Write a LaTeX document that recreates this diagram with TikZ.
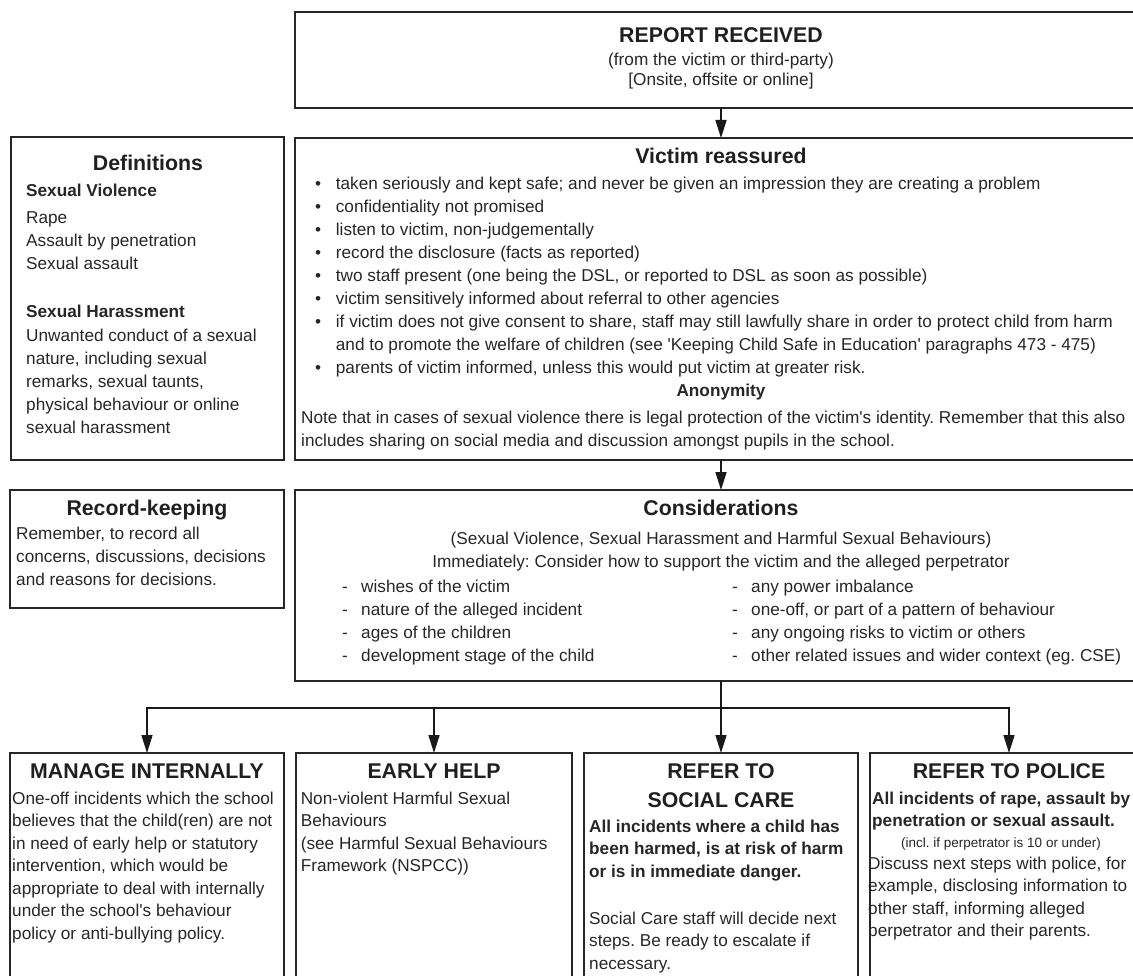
\documentclass[tikz,border=0pt]{standalone}
\usepackage{fontspec}
\setmainfont{Liberation Sans}
\usetikzlibrary{arrows.meta}
\newcommand{\sq}{\textquotesingle}
\frenchspacing
\begin{document}
\begin{tikzpicture}[x=1pt,y=-1pt,
  box/.style={draw=black!85, line width=1.6pt, rectangle, inner sep=0pt, outer sep=0pt, anchor=north west},
  ttl/.style={font=\bfseries\fontsize{21.3}{25}\selectfont, text=black!88, inner sep=0pt, anchor=base},
  line/.style={font=\fontsize{17.2}{23}\selectfont, text=black!85, inner sep=0pt, anchor=base},
  bline/.style={line, font=\bfseries\fontsize{17.2}{23}\selectfont},
  small/.style={line, font=\fontsize{13.5}{16}\selectfont},
  para/.style={font=\fontsize{17.2}{23}\selectfont, text=black!85, inner sep=0pt, align=left, anchor=north west},
  bpara/.style={font=\fontsize{17.2}{22.5}\selectfont, text=black!85, inner sep=0pt, align=left, anchor=north west},
  bbpara/.style={bpara, font=\bfseries\fontsize{17.2}{22.5}\selectfont},
  ln/.style={draw=black!90, line width=1.6pt},
  arr/.style={ln, -{Triangle[length=18pt,width=11pt]}}
]
\useasboundingbox (0,0) rectangle (1133,976);
\clip (0,0) rectangle (1133,976);

% ---------- boxes ----------
\node[box, minimum width=852pt, minimum height=96pt]  (report) at (295,12) {};
\node[box, minimum width=273pt, minimum height=323pt] (defs)   at (11,137) {};
\node[box, minimum width=852pt, minimum height=322pt] (victim) at (295,138) {};
\node[box, minimum width=274pt, minimum height=118pt] (record) at (10,490) {};
\node[box, minimum width=852pt, minimum height=191pt] (consid) at (295,490) {};
\node[box, minimum width=274pt, minimum height=260pt] (manage) at (10,753) {};
\node[box, minimum width=276pt, minimum height=260pt] (early)  at (296,753) {};
\node[box, minimum width=274pt, minimum height=260pt] (social) at (584,753) {};
\node[box, minimum width=278pt, minimum height=260pt] (police) at (870,753) {};

% ---------- report ----------
\node[ttl]  (reportT)  at (721,43) {REPORT RECEIVED};
\node[line] (reportS1) at (721,66) {(from the victim or third-party)};
\node[line] (reportS2) at (721,86) {[Onsite, offsite or online]};

% ---------- definitions ----------
\node[ttl] (defsT) at (148,170.6) {Definitions};
\node[bline, anchor=base west] (defsSV) at (26,197) {Sexual Violence};
\node[para] (defsSVt) at (26,206.9) {\strut Rape\\Assault by penetration\\Sexual assault};
\node[bline, anchor=base west] (defsSH) at (26,318) {Sexual Harassment};
\node[para] (defsSHt) at (26,324.9) {\strut Unwanted conduct of a sexual\\nature, including sexual\\remarks, sexual taunts,\\physical behaviour or online\\sexual harassment};

% ---------- victim ----------
\node[ttl] (victimT) at (721,164) {Victim reassured};
\node[para] (victimL) at (315,173.4) {%
\begin{tabular}{@{}l@{}l@{}}
\makebox[20.7pt][l]{•} & taken seriously and kept safe; and never be given an impression they are creating a problem\\
\makebox[20.7pt][l]{•} & confidentiality not promised\\
\makebox[20.7pt][l]{•} & listen to victim, non-judgementally\\
\makebox[20.7pt][l]{•} & record the disclosure (facts as reported)\\
\makebox[20.7pt][l]{•} & two staff present (one being the DSL, or reported to DSL as soon as possible)\\
\makebox[20.7pt][l]{•} & victim sensitively informed about referral to other agencies\\
\makebox[20.7pt][l]{•} & if victim does not give consent to share, staff may still lawfully share in order to protect child from harm\\
 & and to promote the welfare of children (see \sq Keeping Child Safe in Education\sq\ paragraphs 473 - 475)\\
\makebox[20.7pt][l]{•} & parents of victim informed, unless this would put victim at greater risk.
\end{tabular}};
\node[bline] (anonT) at (721,396) {Anonymity};
\node[para] (anonS) at (301,406.9) {\strut Note that in cases of sexual violence there is legal protection of the victim\sq s identity. Remember that this also\\includes sharing on social media and discussion amongst pupils in the school.};

% ---------- record keeping ----------
\node[ttl] (recordT) at (147,515.6) {Record-keeping};
\node[para] (recordS) at (16,522.9) {\strut Remember, to record all\\concerns, discussions, decisions\\and reasons for decisions.};

% ---------- considerations ----------
\node[ttl]  (considT)  at (721,515.6) {Considerations};
\node[line] (considS1) at (721,544) {(Sexual Violence, Sexual Harassment and Harmful Sexual Behaviours)};
\node[line] (considS2) at (721,567) {Immediately: Consider how to support the victim and the alleged perpetrator};
\node[para] (considL) at (342,575.9) {%
\begin{tabular}{@{}l@{}l@{}}
\makebox[19pt][l]{-} & wishes of the victim\\
\makebox[19pt][l]{-} & nature of the alleged incident\\
\makebox[19pt][l]{-} & ages of the children\\
\makebox[19pt][l]{-} & development stage of the child
\end{tabular}};
\node[para] (considR) at (732,575.9) {%
\begin{tabular}{@{}l@{}l@{}}
\makebox[19pt][l]{-} & any power imbalance\\
\makebox[19pt][l]{-} & one-off, or part of a pattern of behaviour\\
\makebox[19pt][l]{-} & any ongoing risks to victim or others\\
\makebox[19pt][l]{-} & other related issues and wider context (eg. CSE)
\end{tabular}};

% ---------- bottom row ----------
\node[ttl] (manageT) at (147,778.3) {MANAGE INTERNALLY};
\node[bpara] (manageS) at (12,788.25) {\strut One-off incidents which the school\\believes that the child(ren) are not\\in need of early help or statutory\\intervention, which would be\\appropriate to deal with internally\\under the school\sq s behaviour\\policy or anti-bullying policy.};

\node[ttl] (earlyT) at (434,778.3) {EARLY HELP};
\node[bpara] (earlyS) at (300.6,788.25) {\strut Non-violent Harmful Sexual\\Behaviours\\(see Harmful Sexual Behaviours\\Framework (NSPCC))};

\node[ttl] (socialT1) at (721,778.3) {REFER TO};
\node[ttl] (socialT2) at (721,807.6) {SOCIAL CARE};
\node[bbpara] (socialB) at (589,816.25) {\strut All incidents where a child has\\been harmed, is at risk of harm\\or is in immediate danger.};
\node[bpara] (socialS) at (589,908.25) {\strut Social Care staff will decide next\\steps. Be ready to escalate if\\necessary.};

\node[ttl] (policeT) at (1009,778.3) {REFER TO POLICE};
\node[bbpara] (policeB) at (872,788.25) {\strut All incidents of rape, assault by\\penetration or sexual assault.};
\node[small] (policeI) at (1001,847) {(incl. if perpetrator is 10 or under)};
\node[bpara] (policeS) at (868,853.25) {\strut Discuss next steps with police, for\\example, disclosing information to\\other staff, informing alleged\\perpetrator and their parents.};

% ---------- connectors ----------
\coordinate (jn) at ([yshift=-27pt]consid.south);
\draw[arr] (report.south) -- (victim.north);
\draw[arr] (victim.south) -- (consid.north);
\draw[ln]  (consid.south) -- (jn);
\draw[arr] (jn) -| (manage.north);
\draw[arr] (jn) -| (early.north);
\draw[arr] (jn) -| (social.north);
\draw[arr] (jn) -| (police.north);
\end{tikzpicture}
\end{document}
